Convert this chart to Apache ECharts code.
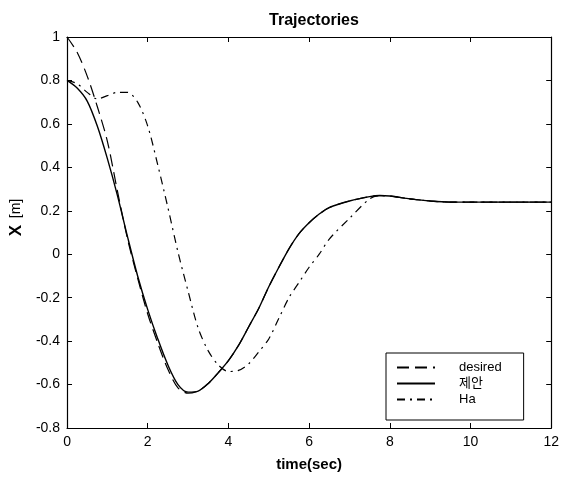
<!DOCTYPE html>
<html>
<head>
<meta charset="utf-8">
<script src="https://cdn.jsdelivr.net/npm/echarts@6/dist/echarts.min.js"></script>
<style>html,body{margin:0;padding:0;background:#fff}#c{width:562px;height:477px}</style>
</head>
<body>
<div id="c"></div>
<script>
var time = [0,0.25,0.5,0.75,1,1.25,1.5,1.75,2,2.25,2.5,2.75,3,3.25,3.5,3.75,4,4.25,4.5,4.75,5,5.25,5.5,5.75,6,6.25,6.5,7,7.5,7.75,8,8.5,9,9.5,10,11,12];
var desired = [1.0,0.93,0.82,0.68,0.52,0.29,0.07,-0.11,-0.275,-0.41,-0.53,-0.615,-0.64,-0.63,-0.595,-0.545,-0.49,-0.42,-0.335,-0.25,-0.15,-0.06,0.025,0.095,0.145,0.185,0.215,0.245,0.265,0.27,0.268,0.255,0.245,0.24,0.24,0.24,0.24];
var proposed = [0.80,0.765,0.705,0.59,0.44,0.27,0.08,-0.10,-0.255,-0.39,-0.51,-0.60,-0.635,-0.63,-0.595,-0.545,-0.49,-0.42,-0.335,-0.25,-0.15,-0.06,0.025,0.095,0.145,0.185,0.215,0.245,0.265,0.27,0.268,0.255,0.245,0.24,0.24,0.24,0.24];
var ha = [0.80,0.785,0.745,0.715,0.73,0.745,0.745,0.70,0.59,0.41,0.215,0.01,-0.17,-0.34,-0.445,-0.51,-0.54,-0.535,-0.505,-0.45,-0.39,-0.295,-0.20,-0.13,-0.06,0.0,0.07,0.165,0.255,0.27,0.268,0.255,0.245,0.24,0.24,0.24,0.24];
var seriesNames = ['desired','제안','Ha'];

function pairs(vals){ return time.map(function(t,i){ return [t, vals[i]]; }); }

var FONT = 'Liberation Sans, Arial, Noto Sans CJK KR, sans-serif';
var chart = echarts.init(document.getElementById('c'), null, {renderer:'canvas'});
var tickStyle = {show:true, inside:true, length:5, lineStyle:{color:'#000', width:1}};
var lineAx = {show:true, onZero:false, lineStyle:{color:'#000', width:1.2}};
chart.setOption({
  backgroundColor:'#fff',
  animation:false,
  title:{
    text:'Trajectories', left:309, top:8, textAlign:'center',
    textStyle:{fontFamily:FONT, fontSize:16, fontWeight:'bold', color:'#000'}
  },
  grid:{left:61, right:5, top:37, bottom:49, containLabel:false},
  legend:{
    data:seriesNames, orient:'vertical', left:386, top:353,
    itemWidth:38, itemHeight:14, itemGap:3,
    itemStyle:{opacity:0},
    padding:[8,22,14,10], borderColor:'#000', borderWidth:1, backgroundColor:'#fff',
    textStyle:{fontFamily:FONT, fontSize:13, color:'#000', padding:[0,0,0,19]}
  },
  xAxis:[{
    type:'value', min:0, max:12, interval:2, position:'bottom',
    name:'time(sec)', nameLocation:'middle', nameGap:29,
    nameTextStyle:{fontFamily:FONT, fontSize:15, fontWeight:'bold', color:'#000'},
    axisLine:lineAx, axisTick:tickStyle,
    axisLabel:{fontFamily:FONT, fontSize:14, color:'#000', margin:7},
    splitLine:{show:false}
  },{
    type:'value', min:0, max:12, interval:2, position:'top',
    axisLine:lineAx, axisTick:tickStyle, axisLabel:{show:false}, splitLine:{show:false}
  }],
  yAxis:[{
    type:'value', min:-0.8, max:1, interval:0.2, position:'left',
    name:'{b|X}  {r|[m]}', nameLocation:'middle', nameGap:30,
    nameTextStyle:{padding:[0,0,0,30], rich:{
      b:{fontFamily:FONT, fontSize:17, fontWeight:'bold', color:'#000'},
      r:{fontFamily:FONT, fontSize:14, color:'#000'}
    }},
    axisLine:lineAx, axisTick:tickStyle,
    axisLabel:{fontFamily:FONT, fontSize:14, color:'#000', margin:7,
      formatter:function(v){ return String(Math.round(v*10)/10); }},
    splitLine:{show:false}
  },{
    type:'value', min:-0.8, max:1, interval:0.2, position:'right',
    axisLine:lineAx, axisTick:tickStyle, axisLabel:{show:false}, splitLine:{show:false}
  }],
  series:[
    {name:seriesNames[0], type:'line', xAxisIndex:0, yAxisIndex:0, data:pairs(desired),
     smooth:0.3, symbol:'none', lineStyle:{color:'#000', width:1.2, type:[12,6]}, itemStyle:{color:'#000'}},
    {name:seriesNames[1], type:'line', xAxisIndex:0, yAxisIndex:0, data:pairs(proposed),
     smooth:0.3, symbol:'none', lineStyle:{color:'#000', width:1.4, type:'solid'}, itemStyle:{color:'#000'}},
    {name:seriesNames[2], type:'line', xAxisIndex:0, yAxisIndex:0, data:pairs(ha),
     smooth:0.3, symbol:'none', lineStyle:{color:'#000', width:1.2, type:[8,5,2,5]}, itemStyle:{color:'#000'}}
  ]
});
</script>
</body>
</html>
